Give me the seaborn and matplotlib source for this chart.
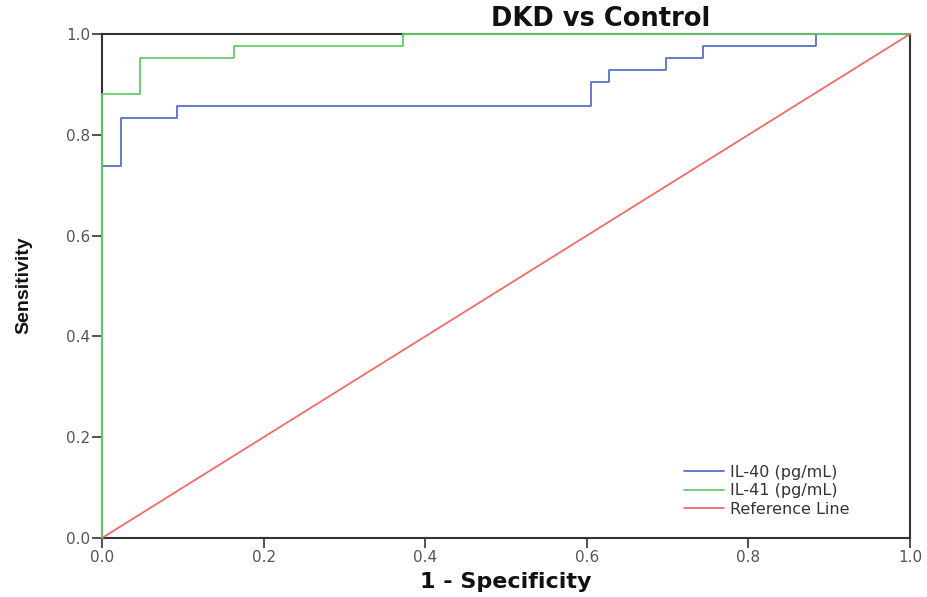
import matplotlib
matplotlib.use("Agg")
import matplotlib.pyplot as plt
import seaborn as sns
import pandas as pd

# ROC data (1 - Specificity, Sensitivity)
il40_fpr = [0.0, 0.0, 0.023, 0.093, 0.605, 0.628, 0.698, 0.744, 0.884, 1.0]
il40_tpr = [0.0, 0.738, 0.833, 0.857, 0.905, 0.929, 0.952, 0.976, 1.0, 1.0]
il41_fpr = [0.0, 0.0, 0.047, 0.163, 0.372, 1.0]
il41_tpr = [0.0, 0.881, 0.952, 0.976, 1.0, 1.0]
ref_x = [0.0, 1.0]
ref_y = [0.0, 1.0]
series_labels = ["IL-40 (pg/mL)", "IL-41 (pg/mL)", "Reference Line"]
ticks = [0.0, 0.2, 0.4, 0.6, 0.8, 1.0]
tick_labels = ["0.0", "0.2", "0.4", "0.6", "0.8", "1.0"]

sns.set_theme(style="white")
plt.rcParams['font.family'] = ['DejaVu Sans']

fig = plt.figure(figsize=(9.28, 5.97), dpi=100)
ax = fig.add_axes([0.1099, 0.0988, 0.8707, 0.8442])

colors = ["#5a72c4", "#63cc6b", "#f26a6a"]

df40 = pd.DataFrame({"x": il40_fpr, "y": il40_tpr})
df41 = pd.DataFrame({"x": il41_fpr, "y": il41_tpr})
dfr = pd.DataFrame({"x": ref_x, "y": ref_y})

common = dict(ax=ax, sort=False, estimator=None, errorbar=None, lw=1.3,
              clip_on=False, zorder=3)
sns.lineplot(data=df40, x="x", y="y", drawstyle="steps-post",
             color=colors[0], label=series_labels[0], **common)
sns.lineplot(data=df41, x="x", y="y", drawstyle="steps-post",
             color=colors[1], label=series_labels[1], **common)
sns.lineplot(data=dfr, x="x", y="y",
             color=colors[2], label=series_labels[2], **common)

ax.set_xlim(0, 1)
ax.set_ylim(0, 1)
ax.set_xticks(ticks)
ax.set_xticklabels(tick_labels)
ax.set_yticks(ticks)
ax.set_yticklabels(tick_labels)
ax.tick_params(axis="both", direction="out", length=7, width=1.2, color="#333333",
               labelsize=11, labelcolor="#555555", pad=1.5,
               bottom=True, left=True)
for s in ax.spines.values():
    s.set_visible(True)
    s.set_color("#333333")
    s.set_linewidth(1.5)

ax.set_xlabel("")
ax.set_ylabel("")
fig.text(0.545, 0.025, "1 - Specificity", ha="center", va="center",
         fontsize=16, fontweight="bold", color="#111111")
fig.text(0.026, 0.523, "Sensitivity", ha="center", va="center", rotation=90,
         fontsize=14, fontweight="bold", color="#111111",
         family=['Liberation Sans Narrow', 'Liberation Sans', 'DejaVu Sans'])
fig.text(0.647, 0.968, "DKD vs Control", ha="center", va="center",
         fontsize=18.5, fontweight="bold", color="#111111")

leg = ax.legend(loc="upper left", bbox_to_anchor=(0.72, 0.145), frameon=False,
                fontsize=11.5, handlelength=2.5, handletextpad=0.4,
                labelspacing=0.22, borderpad=0, borderaxespad=0)
for t in leg.get_texts():
    t.set_color("#333333")

fig.savefig("out.png", dpi=100)
